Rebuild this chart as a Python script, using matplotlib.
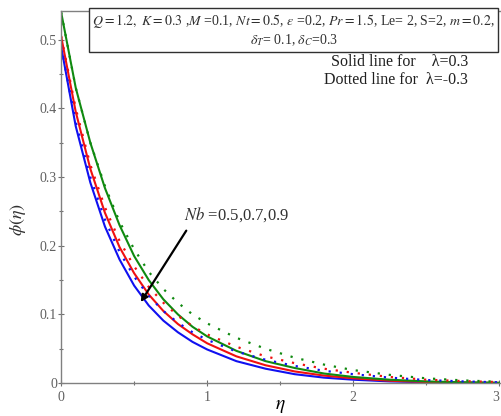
import numpy as np
import matplotlib
matplotlib.use("Agg")
import matplotlib.pyplot as plt
from matplotlib.ticker import MultipleLocator

plt.rcParams["font.family"] = ["Liberation Serif", "DejaVu Serif"]
plt.rcParams["mathtext.fontset"] = "stix"

# eta grid and phi(eta) values
eta = [0, 0.1, 0.2, 0.3, 0.4, 0.5, 0.6, 0.7, 0.8, 0.9, 1.0,
       1.2, 1.4, 1.6, 1.8, 2.0, 2.25, 2.5, 2.75, 3.0]

# solid lines: lambda = 0.3, Nb = 0.5, 0.7, 0.9
solid_blue = [0.49, 0.374, 0.292, 0.228, 0.180, 0.142, 0.113, 0.091, 0.074, 0.060, 0.049,
              0.032, 0.021, 0.013, 0.008, 0.005, 0.0025, 0.0012, 0.0005, 0.0002]
solid_red = [0.505, 0.395, 0.312, 0.248, 0.198, 0.160, 0.129, 0.105, 0.086, 0.071, 0.058,
             0.039, 0.026, 0.017, 0.011, 0.007, 0.0035, 0.0017, 0.0008, 0.0003]
solid_green = [0.54, 0.43, 0.35, 0.284, 0.230, 0.185, 0.150, 0.122, 0.100, 0.082, 0.068,
               0.047, 0.032, 0.022, 0.014, 0.009, 0.005, 0.0025, 0.0012, 0.0005]

# dotted lines: lambda = -0.3
dot_blue = [0.49, 0.38, 0.30, 0.238, 0.191, 0.155, 0.127, 0.105, 0.088, 0.074, 0.063,
            0.046, 0.034, 0.025, 0.018, 0.013, 0.008, 0.0045, 0.0025, 0.0012]
dot_red = [0.505, 0.40, 0.318, 0.256, 0.207, 0.170, 0.140, 0.117, 0.098, 0.083, 0.071,
           0.053, 0.039, 0.029, 0.021, 0.015, 0.009, 0.005, 0.003, 0.0015]
dot_green = [0.54, 0.43, 0.35, 0.287, 0.235, 0.195, 0.162, 0.137, 0.117, 0.100, 0.087,
             0.066, 0.050, 0.037, 0.027, 0.019, 0.012, 0.007, 0.004, 0.002]

x_ticks = [0, 1, 2, 3]
colors = ["#1010f0", "#f01010", "#108a10"]

fig = plt.figure(figsize=(5.01, 4.16), dpi=100)
ax = fig.add_axes([0.122, 0.079, 0.876, 0.895])

for y, c in zip([solid_blue, solid_red, solid_green], colors):
    ax.plot(eta, y, color=c, lw=1.5)
for y, c in zip([dot_blue, dot_red, dot_green], colors):
    ax.plot(eta, y, color=c, lw=1.6, linestyle=(0, (1, 4)))

ax.set_xlim(0, 3.005)
ax.set_ylim(0, 0.542)

ax.set_xticks(x_ticks)
ax.set_xticklabels([str(t) for t in x_ticks])
ax.xaxis.set_minor_locator(MultipleLocator(0.5))
ax.yaxis.set_major_locator(MultipleLocator(0.1))
ax.yaxis.set_minor_locator(MultipleLocator(0.05))
ax.yaxis.set_major_formatter(plt.FuncFormatter(lambda v, p: "0" if abs(v) < 1e-9 else f"{v:.1f}"))
ax.tick_params(which="both", direction="inout", colors="#707070", labelcolor="#606060",
               labelsize=10, width=0.8)
ax.tick_params(which="major", length=4)
ax.tick_params(which="minor", length=3)
ax.tick_params(axis="y", pad=1)
# keep the last x tick label inside the figure
ax.xaxis.get_major_ticks()[-1].label1.set_horizontalalignment("right")

for s in ["left", "bottom", "top"]:
    ax.spines[s].set_color("#808080")
    ax.spines[s].set_linewidth(1.0)
ax.spines["right"].set_visible(False)

ax.set_xlabel(r"$\eta$", fontsize=14, labelpad=-4)
ax.set_ylabel(r"$\phi(\eta)$", fontsize=13, color="#303030")
ax.yaxis.set_label_coords(-0.075, 0.44)

# parameter box
box_txt = (r"$\mathit{Q=1.2,\ K=0.3}$ ,$M$ =0.1, $\mathit{Nt=0.5}$, $\varepsilon$ =0.2, "
           r"$\mathit{Pr=1.5}$, Le= 2, S=2, $\mathit{m=0.2}$," "\n"
           r"$\delta_T$= 0.1, $\delta_C$=0.3")
ax.text(0.53, 0.948, box_txt, transform=ax.transAxes, ha="center", va="center",
        fontsize=10, color="#303030", linespacing=1.25,
        bbox=dict(boxstyle="square,pad=0.22", fc="white", ec="#303030", lw=1.0))

ax.text(0.615, 0.862, "Solid line for    λ=0.3", transform=ax.transAxes,
        fontsize=11.5, color="#202020", va="center")
ax.text(0.6, 0.815, "Dotted line for  λ=-0.3", transform=ax.transAxes,
        fontsize=11.5, color="#202020", va="center")

ax.annotate("", xy=(0.545, 0.118), xytext=(0.857, 0.222),
            arrowprops=dict(arrowstyle="-|>", color="black", lw=1.6,
                            mutation_scale=10, shrinkA=0, shrinkB=0))
ax.text(0.84, 0.246, r"$Nb$ =0.5,0.7,0.9", fontsize=12, color="#303030", va="center")

fig.savefig("out.png", dpi=100)
